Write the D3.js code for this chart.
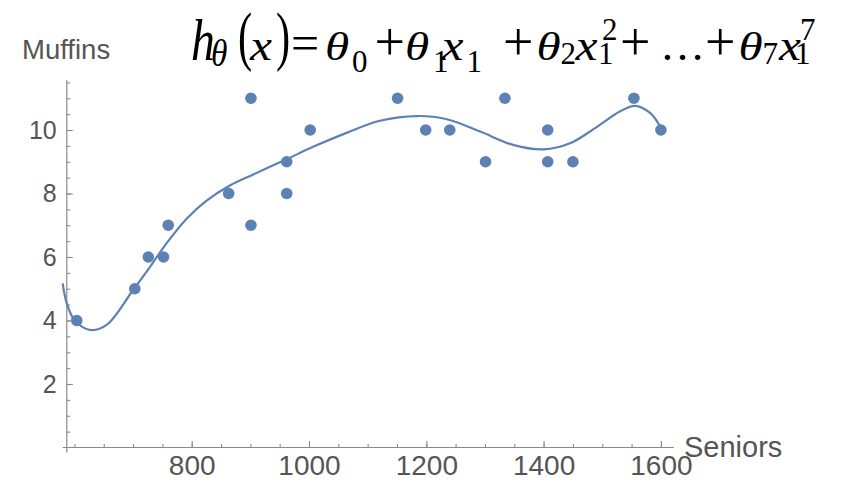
<!DOCTYPE html>
<html>
<head>
<meta charset="utf-8">
<script src="https://cdn.jsdelivr.net/npm/d3@7"></script>
<style>
  body { margin: 0; background: #fff; }
  svg { display: block; }
</style>
</head>
<body>
<svg id="chart"></svg>
<script>
const width = 841;
const height = 486;

// data points
const seniors = [604, 703, 726, 752, 760, 863, 901, 901, 962, 962, 1002, 1151, 1199, 1240, 1301, 1334, 1407, 1407, 1450, 1554, 1600];
const muffins = [4, 5, 6, 6, 7, 8, 11, 7, 9, 8, 10, 11, 10, 10, 9, 11, 10, 9, 9, 11, 10];

// fitted curve
const fitX = [580, 587, 600, 627, 655, 700, 729, 757, 791, 826, 865, 905, 962, 1007, 1064, 1121, 1184, 1235, 1292, 1348, 1400, 1445, 1491, 1530, 1556, 1582, 1599];
const fitY = [5.17, 4.54, 4.02, 3.70, 3.86, 4.96, 5.69, 6.43, 7.20, 7.78, 8.25, 8.60, 9.08, 9.47, 9.91, 10.29, 10.44, 10.34, 9.95, 9.53, 9.39, 9.58, 10.10, 10.58, 10.76, 10.53, 10.10];

const xMajor = [800, 1000, 1200, 1400, 1600];
const xMinor = d3.range(600, 1601, 50);
const yMajor = [2, 4, 6, 8, 10];
const yMinor = d3.range(0.5, 11.6, 0.5);

const xExtent = [587, 1622];
const yExtent = [0, 11.57];

const blue = "#5e81b5";
const axisColor = "#8a8a8a";
const labelColor = "#555";

const svg = d3.select("#chart")
  .attr("width", width)
  .attr("height", height);

const x = d3.scaleLinear().domain([600, 1600]).range([74.4, 660.9]);
const y = d3.scaleLinear().domain([0, 10]).range([447.5, 130]);

// axis lines
svg.append("line")
  .attr("x1", x(xExtent[0]) - 4).attr("x2", x(xExtent[1]))
  .attr("y1", y(0)).attr("y2", y(0))
  .attr("stroke", axisColor).attr("stroke-width", 1.2);

svg.append("line")
  .attr("x1", x(xExtent[0])).attr("x2", x(xExtent[0]))
  .attr("y1", y(yExtent[1])).attr("y2", y(0) + 5)
  .attr("stroke", axisColor).attr("stroke-width", 1.2);

// x axis ticks
const xMinorAxis = d3.axisBottom(x).tickValues(xMinor).tickSizeInner(-3.5).tickSizeOuter(0).tickFormat("");
const xMajorAxis = d3.axisBottom(x).tickValues(xMajor).tickSizeInner(-6.5).tickSizeOuter(0).tickPadding(8).tickFormat(d3.format("d"));

[xMinorAxis, xMajorAxis].forEach(ax => {
  const g = svg.append("g")
    .attr("transform", `translate(0,${y(0)})`)
    .call(ax);
  g.select(".domain").remove();
  g.selectAll("line").attr("stroke", axisColor).attr("stroke-width", 1.1);
  g.selectAll("text")
    .attr("fill", labelColor)
    .attr("font-family", "'Liberation Sans', Arial, sans-serif")
    .attr("font-size", 28);
});

// y axis ticks
const yMinorAxis = d3.axisLeft(y).tickValues(yMinor).tickSizeInner(-3.5).tickSizeOuter(0).tickFormat("");
const yMajorAxis = d3.axisLeft(y).tickValues(yMajor).tickSizeInner(-6).tickSizeOuter(0).tickPadding(10).tickFormat(d3.format("d"));

[yMinorAxis, yMajorAxis].forEach(ax => {
  const g = svg.append("g")
    .attr("transform", `translate(${x(xExtent[0])},0)`)
    .call(ax);
  g.select(".domain").remove();
  g.selectAll("line").attr("stroke", axisColor).attr("stroke-width", 1.1);
  g.selectAll("text")
    .attr("fill", labelColor)
    .attr("font-family", "'Liberation Sans', Arial, sans-serif")
    .attr("font-size", 25);
});

// axis titles
svg.append("text")
  .attr("x", 22).attr("y", 59)
  .attr("fill", labelColor)
  .attr("font-family", "'Liberation Sans', Arial, sans-serif")
  .attr("font-size", 27.5)
  .text("Muffins");

svg.append("text")
  .attr("x", 684).attr("y", 457)
  .attr("fill", labelColor)
  .attr("font-family", "'Liberation Sans', Arial, sans-serif")
  .attr("font-size", 29)
  .text("Seniors");

// fitted curve
const fit = fitX.map((d, i) => [d, fitY[i]]);
svg.append("path")
  .datum(fit)
  .attr("fill", "none")
  .attr("stroke", blue)
  .attr("stroke-width", 2.2)
  .attr("d", d3.line().x(d => x(d[0])).y(d => y(d[1])).curve(d3.curveCatmullRom.alpha(0.5)));

// points
svg.append("g")
  .selectAll("circle")
  .data(seniors.map((d, i) => [d, muffins[i]]))
  .join("circle")
  .attr("cx", d => x(d[0]))
  .attr("cy", d => y(d[1]))
  .attr("r", 5.8)
  .attr("fill", blue);

// formula: text, x, baseline, size, italic, scaleX, scaleY
const pieces = [
  ["h", 191, 59.5, 52, true, 0.92, 1.12], ["\u03b8", 211, 66, 38, true, 0.88, 1],
  ["(", 238, 57.5, 50, false, 0.85, 1.3], ["x", 250, 59.5, 45, true, 1.1, 1], [")", 276, 57.5, 50, false, 0.85, 1.3],
  ["=", 291, 59.5, 50, false, 1, 1],
  ["\u03b8", 325, 59.5, 41, true, 1.2, 1], ["0", 352, 71.5, 31, false, 1, 1],
  ["+", 374.5, 59.5, 54, false, 1, 1],
  ["\u03b8", 405, 59.5, 41, true, 1.2, 1], ["1", 433, 71.5, 31, false, 1, 1], ["x", 441.5, 59.5, 45, true, 1.1, 1], ["1", 466.5, 71.5, 31, false, 1, 1],
  ["+", 503, 59.5, 54, false, 1, 1],
  ["\u03b8", 536.5, 59.5, 41, true, 1.2, 1], ["2", 560.5, 63.5, 31, false, 1, 1], ["x", 575.5, 59.5, 45, true, 1.1, 1], ["2", 602, 40, 31, false, 1, 1], ["1", 598, 63.5, 31, false, 1, 1],
  ["+", 620, 59.5, 54, false, 1, 1],
  ["\u2026", 660, 59.5, 45, false, 1, 1],
  ["+", 705, 59.5, 54, false, 1, 1],
  ["\u03b8", 738.5, 59.5, 41, true, 1.2, 1], ["7", 762.5, 63.5, 31, false, 1, 1], ["x", 779, 59.5, 45, true, 1.1, 1], ["7", 800, 40, 31, false, 1, 1], ["1", 795, 63.5, 31, false, 1, 1]
];

svg.append("g")
  .attr("class", "formula")
  .selectAll("text")
  .data(pieces)
  .join("text")
  .attr("transform", d => `translate(${d[1]},${d[2]}) scale(${d[5]},${d[6]})`)
  .attr("font-family", "'Liberation Serif', 'Times New Roman', serif")
  .attr("font-size", d => d[3])
  .attr("font-style", d => d[4] ? "italic" : "normal")
  .attr("fill", "#000")
  .text(d => d[0]);
</script>
</body>
</html>
